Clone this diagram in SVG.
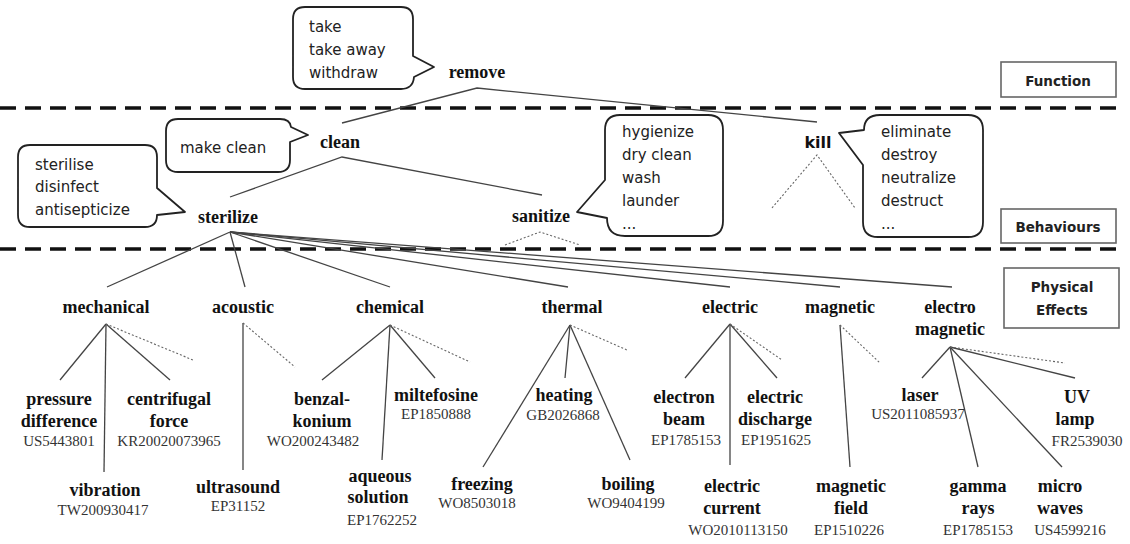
<svg xmlns="http://www.w3.org/2000/svg" width="1130" height="544" viewBox="0 0 1130 544">
<style>
.bg{fill:#fff}
.sep{stroke:#111;stroke-width:3.5;stroke-dasharray:16 9;fill:none}
.ln{stroke:#444;stroke-width:1.3;fill:none}
.dot{stroke:#666;stroke-width:1.1;stroke-dasharray:2 2;fill:none}
.bub{fill:#fff;stroke:#222;stroke-width:1.8;stroke-linejoin:round}
.box{fill:#fff;stroke:#666;stroke-width:1.6}
.bt{font-family:"DejaVu Sans",sans-serif;font-size:15px;fill:#222}
.bx{font-family:"DejaVu Sans",sans-serif;font-weight:bold;font-size:13.5px;fill:#222;text-anchor:middle}
.lb{font-family:"Liberation Serif",serif;font-weight:bold;font-size:18px;fill:#111;text-anchor:middle}
.ks{font-family:"DejaVu Sans",sans-serif;font-weight:bold;font-size:16px;fill:#111;text-anchor:middle}
.pn{font-family:"Liberation Serif",serif;font-size:15px;fill:#333;text-anchor:middle}
</style>
<rect class="bg" x="0" y="0" width="1130" height="544"/>

<g id="separators">
<line class="sep" x1="0" y1="108" x2="1122" y2="108"/>
<line class="sep" x1="0" y1="249" x2="1122" y2="249"/>
</g>

<g id="connectors">
<polyline class="ln" points="342,123 477,88 817,122"/>
<polyline class="ln" points="230,197 342,157 542,195"/>
<polyline class="dot" points="772,208 817,155 855,208"/>
<polyline class="dot" points="505,245 540,232 580,245"/>
<line class="ln" x1="230" y1="232" x2="107" y2="287"/>
<line class="ln" x1="230" y1="232" x2="245" y2="287"/>
<line class="ln" x1="230" y1="232" x2="390" y2="287"/>
<line class="ln" x1="230" y1="232" x2="568" y2="287"/>
<line class="ln" x1="230" y1="232" x2="730" y2="287"/>
<line class="ln" x1="230" y1="232" x2="840" y2="287"/>
<line class="ln" x1="230" y1="232" x2="952" y2="287"/>
<line class="ln" x1="106" y1="324" x2="60" y2="380"/>
<line class="ln" x1="106" y1="324" x2="104" y2="472"/>
<line class="ln" x1="106" y1="324" x2="170" y2="380"/>
<line class="dot" x1="106" y1="324" x2="193" y2="360"/>
<line class="ln" x1="243" y1="323" x2="243" y2="470"/>
<line class="dot" x1="243" y1="323" x2="295" y2="367"/>
<line class="ln" x1="390" y1="325" x2="322" y2="380"/>
<line class="ln" x1="390" y1="325" x2="382" y2="460"/>
<line class="ln" x1="390" y1="325" x2="435" y2="378"/>
<line class="dot" x1="390" y1="325" x2="470" y2="362"/>
<line class="ln" x1="570" y1="325" x2="483" y2="467"/>
<line class="ln" x1="570" y1="325" x2="565" y2="378"/>
<line class="ln" x1="570" y1="325" x2="630" y2="460"/>
<line class="dot" x1="570" y1="325" x2="627" y2="350"/>
<line class="ln" x1="730" y1="324" x2="685" y2="378"/>
<line class="ln" x1="730" y1="324" x2="730" y2="465"/>
<line class="ln" x1="730" y1="324" x2="777" y2="378"/>
<line class="dot" x1="730" y1="324" x2="782" y2="360"/>
<line class="ln" x1="840" y1="325" x2="850" y2="467"/>
<line class="dot" x1="840" y1="325" x2="880" y2="363"/>
<line class="ln" x1="950" y1="347" x2="922" y2="378"/>
<line class="ln" x1="950" y1="347" x2="978" y2="467"/>
<line class="ln" x1="950" y1="347" x2="1062" y2="467"/>
<line class="ln" x1="950" y1="347" x2="1075" y2="378"/>
<line class="dot" x1="950" y1="347" x2="1065" y2="363"/>
</g>

<g id="level-function">
<rect class="box" x="1001" y="62" width="115" height="35"/>
<text class="bx" x="1058" y="86">Function</text>
</g>
<g id="level-behaviours">
<rect class="box" x="1001" y="209" width="115" height="34"/>
<text class="bx" x="1058" y="232">Behaviours</text>
</g>
<g id="level-physical">
<rect class="box" x="1004" y="268" width="115" height="60"/>
<text class="bx" x="1062" y="292">Physical</text>
<text class="bx" x="1062" y="315">Effects</text>
</g>

<g id="remove">
<path class="bub" d="M305,7 H401 Q413,7 413,19 V56 L434,67 L414,77 Q413,89 401,89 H305 Q293,89 293,77 V19 Q293,7 305,7 Z"/>
<text class="bt" x="309" y="32">take</text>
<text class="bt" x="309" y="55">take away</text>
<text class="bt" x="309" y="78">withdraw</text>
<text class="lb" x="477" y="78">remove</text>
</g>

<g id="clean">
<path class="bub" d="M178,119 H280 Q290,119 291,127 L308,135 L290,142 V160 Q290,172 278,172 H178 Q166,172 166,160 V131 Q166,119 178,119 Z"/>
<text class="bt" x="180" y="153">make clean</text>
<text class="lb" x="340" y="148">clean</text>
</g>

<g id="sterilize">
<path class="bub" d="M30,145 H145 Q157,145 157,157 V188 L185,212 L157,215 Q157,227 145,227 H30 Q18,227 18,215 V157 Q18,145 30,145 Z"/>
<text class="bt" x="35" y="170">sterilise</text>
<text class="bt" x="35" y="192">disinfect</text>
<text class="bt" x="35" y="215">antisepticize</text>
<text class="lb" x="228" y="223">sterilize</text>
</g>

<g id="sanitize">
<path class="bub" d="M620,115 H708 Q723,115 723,130 V221 Q723,236 708,236 H625 Q607,236 607,218 L577,212 L605,180 V130 Q605,115 620,115 Z"/>
<text class="bt" x="622" y="137">hygienize</text>
<text class="bt" x="622" y="160">dry clean</text>
<text class="bt" x="622" y="183">wash</text>
<text class="bt" x="622" y="206">launder</text>
<text class="bt" x="622" y="229">...</text>
<text class="lb" x="541" y="222">sanitize</text>
</g>

<g id="kill">
<path class="bub" d="M880,115 H968 Q983,115 983,130 V222 Q983,237 968,237 H878 Q863,237 863,222 V165 L839,133 L864,130 Q864,115 880,115 Z"/>
<text class="bt" x="881" y="137">eliminate</text>
<text class="bt" x="881" y="160">destroy</text>
<text class="bt" x="881" y="183">neutralize</text>
<text class="bt" x="881" y="206">destruct</text>
<text class="bt" x="881" y="229">...</text>
<text class="ks" x="818" y="148">kill</text>
</g>

<g id="mechanical"><text class="lb" x="106" y="313">mechanical</text></g>
<g id="acoustic"><text class="lb" x="243" y="313">acoustic</text></g>
<g id="chemical"><text class="lb" x="390" y="313">chemical</text></g>
<g id="thermal"><text class="lb" x="572" y="313">thermal</text></g>
<g id="electric"><text class="lb" x="730" y="313">electric</text></g>
<g id="magnetic"><text class="lb" x="840" y="313">magnetic</text></g>
<g id="electromagnetic"><text class="lb" x="950" y="313">electro</text><text class="lb" x="950" y="335">magnetic</text></g>

<g id="pressure-difference"><text class="lb" x="59" y="405">pressure</text><text class="lb" x="59" y="427">difference</text><text class="pn" x="59" y="446">US5443801</text></g>
<g id="centrifugal-force"><text class="lb" x="169" y="405">centrifugal</text><text class="lb" x="169" y="427">force</text><text class="pn" x="169" y="446">KR20020073965</text></g>
<g id="vibration"><text class="lb" x="105" y="496">vibration</text><text class="pn" x="103" y="515">TW200930417</text></g>
<g id="ultrasound"><text class="lb" x="238" y="493">ultrasound</text><text class="pn" x="238" y="511">EP31152</text></g>
<g id="benzalkonium"><text class="lb" x="322" y="405">benzal-</text><text class="lb" x="322" y="427">konium</text><text class="pn" x="313" y="446">WO200243482</text></g>
<g id="miltefosine"><text class="lb" x="436" y="401">miltefosine</text><text class="pn" x="436" y="419">EP1850888</text></g>
<g id="aqueous-solution"><text class="lb" x="380" y="482">aqueous</text><text class="lb" x="378" y="503">solution</text><text class="pn" x="382" y="525">EP1762252</text></g>
<g id="heating"><text class="lb" x="564" y="401">heating</text><text class="pn" x="563" y="420">GB2026868</text></g>
<g id="freezing"><text class="lb" x="482" y="490">freezing</text><text class="pn" x="477" y="508">WO8503018</text></g>
<g id="boiling"><text class="lb" x="628" y="490">boiling</text><text class="pn" x="626" y="508">WO9404199</text></g>
<g id="electron-beam"><text class="lb" x="684" y="403">electron</text><text class="lb" x="684" y="425">beam</text><text class="pn" x="686" y="445">EP1785153</text></g>
<g id="electric-discharge"><text class="lb" x="775" y="403">electric</text><text class="lb" x="775" y="425">discharge</text><text class="pn" x="776" y="445">EP1951625</text></g>
<g id="electric-current"><text class="lb" x="732" y="492">electric</text><text class="lb" x="732" y="514">current</text><text class="pn" x="738" y="535">WO2010113150</text></g>
<g id="magnetic-field"><text class="lb" x="851" y="492">magnetic</text><text class="lb" x="851" y="514">field</text><text class="pn" x="849" y="535">EP1510226</text></g>
<g id="laser"><text class="lb" x="920" y="401">laser</text><text class="pn" x="918" y="419">US2011085937</text></g>
<g id="uv-lamp"><text class="lb" x="1077" y="403">UV</text><text class="lb" x="1075" y="425">lamp</text><text class="pn" x="1087" y="446">FR2539030</text></g>
<g id="gamma-rays"><text class="lb" x="978" y="492">gamma</text><text class="lb" x="978" y="514">rays</text><text class="pn" x="978" y="535">EP1785153</text></g>
<g id="micro-waves"><text class="lb" x="1060" y="492">micro</text><text class="lb" x="1060" y="514">waves</text><text class="pn" x="1070" y="535">US4599216</text></g>
</svg>
